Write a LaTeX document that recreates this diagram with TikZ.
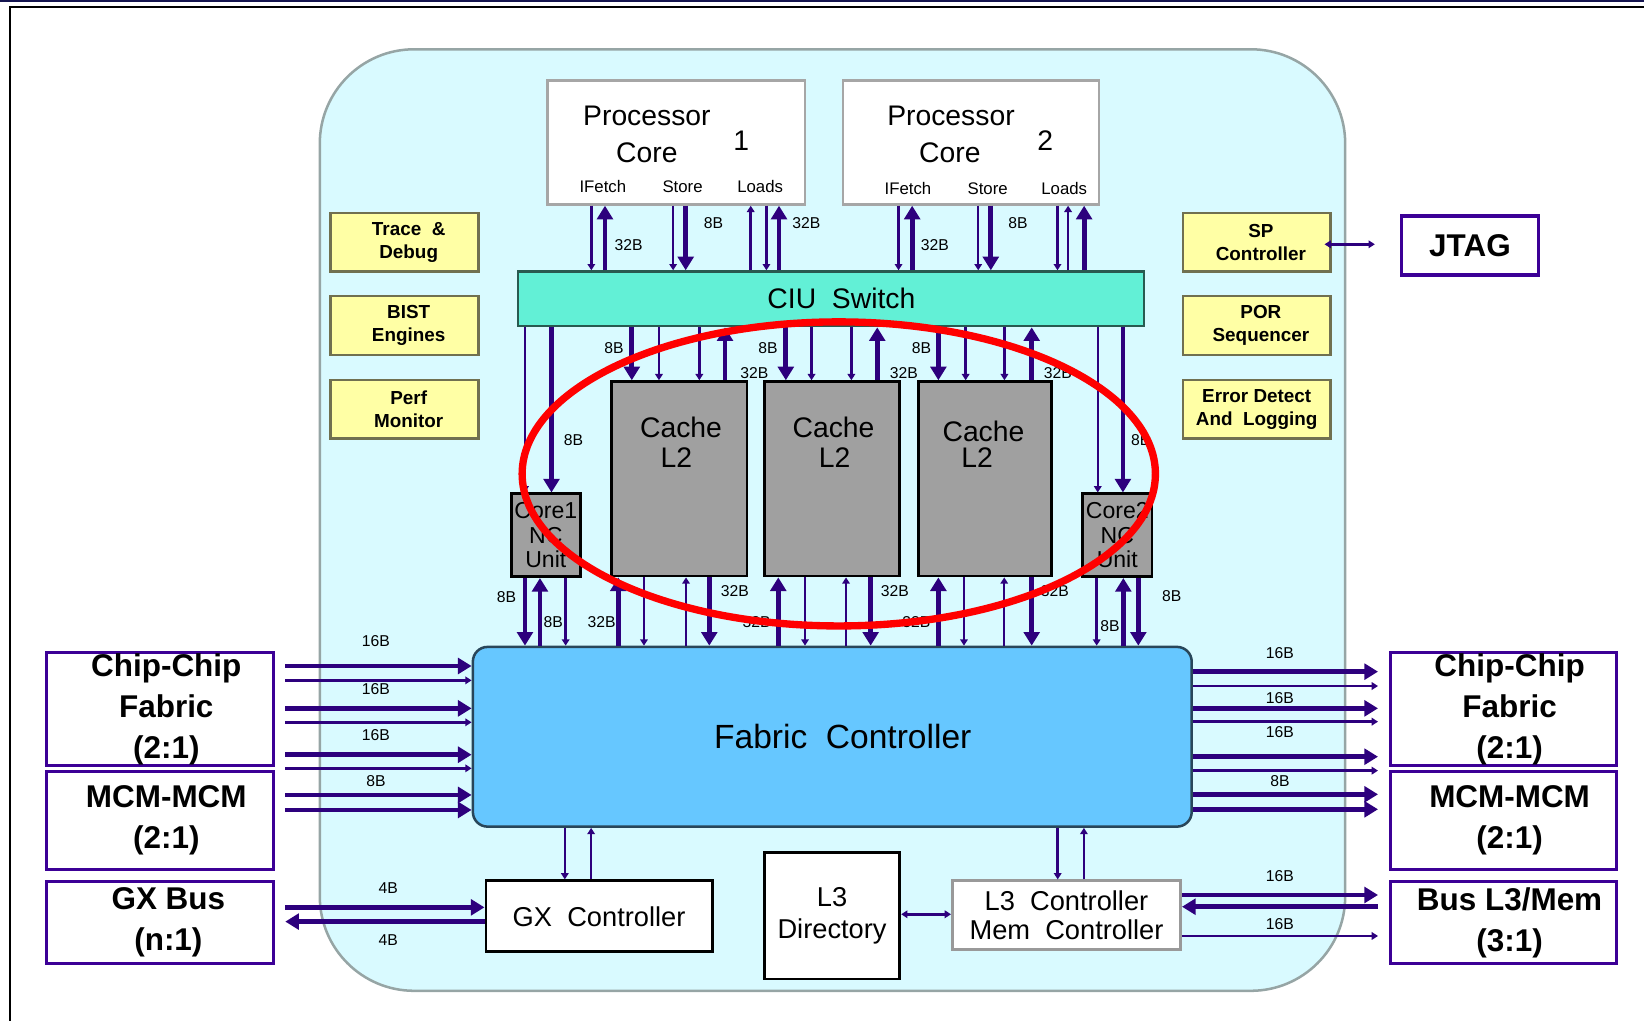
\documentclass[tikz,border=0pt]{standalone}
\usepackage{fontspec}
\setmainfont{Liberation Sans}
\usetikzlibrary{arrows.meta}

\definecolor{chipbg}{RGB}{217,250,255}
\definecolor{chipln}{RGB}{150,165,165}
\definecolor{ciuc}{RGB}{98,240,214}
\definecolor{ciuln}{RGB}{40,90,80}
\definecolor{fabc}{RGB}{102,199,255}
\definecolor{fabln}{RGB}{40,70,90}
\definecolor{cachec}{RGB}{160,160,160}
\definecolor{yelc}{RGB}{255,255,165}
\definecolor{yelln}{RGB}{112,112,80}
\definecolor{extc}{RGB}{60,0,150}
\definecolor{busc}{RGB}{45,0,125}
\definecolor{navy}{RGB}{20,20,80}

\begin{document}
\begin{tikzpicture}[x=0.5pt, y=-0.5pt,
	box/.style={draw, inner sep=0pt, align=center},
	core/.style={box, fill=white, draw=gray!70, line width=1.2pt, minimum width=123pt, minimum height=59pt},
	cache/.style={box, fill=cachec, line width=1.3pt, minimum width=64.5pt, minimum height=92.7pt},
	ncunit/.style={box, fill=cachec, line width=1.3pt, minimum width=33pt, minimum height=39.5pt, font=\fontsize{11}{11.75}\selectfont},
	yel/.style={box, fill=yelc, draw=yelln, line width=1.2pt, minimum width=70.5pt, minimum height=28pt, font=\bfseries\fontsize{9}{11}\selectfont},
	ext/.style={box, fill=white, draw=extc, line width=1.5pt, minimum width=108pt, font=\bfseries\fontsize{15}{19.5}\selectfont},
	blk/.style={box, fill=white, line width=1.3pt, font=\fontsize{13}{15}\selectfont},
	thk/.style={busc, line width=2.3pt, -{Triangle[width=7.5pt,length=6.5pt]}},
	thn/.style={busc, line width=1.2pt, -{Triangle[width=3.6pt,length=3pt]}},
	lbl/.style={inner sep=0pt, font=\fontsize{7.5}{8}\selectfont},
	ctxt/.style={inner sep=0pt, font=\fontsize{13.5}{15}\selectfont},
	ptxt/.style={inner sep=0pt, font=\fontsize{8}{9}\selectfont}]
	\useasboundingbox (0,0) rectangle (1568,974);
	% Frame and chip outline:
	\draw[navy, line width=1.2pt] (0,1) -- (1568,1);
	\draw[line width=1.2pt] (1568,6.5) -- (9.5,6.5) -- (9.5,974);
	\node[draw=chipln, fill=chipbg, line width=1.2pt, rounded corners=45pt, minimum width=489pt, minimum height=449pt, inner sep=0pt] (chip) at (794,496) {};

	% Cores and switch:
	\node[core] (core1) at (645,136) {};
	\node[core, minimum width=122pt] (core2) at (926,136) {};
	\node[ctxt] (p1a) at (617,111) {Processor};
	\node[ctxt] (p1b) at (617,146) {Core};
	\node[ctxt] (p1n) at (707,134) {1};
	\node[ptxt] (p1f) at (575,178) {IFetch};
	\node[ptxt] (p1s) at (651,178) {Store};
	\node[ptxt] (p1l) at (725,178) {Loads};
	\node[ctxt] (p2a) at (907,111) {Processor};
	\node[ctxt] (p2b) at (906,146) {Core};
	\node[ctxt] (p2n) at (997,134) {2};
	\node[ptxt] (p2f) at (866,180) {IFetch};
	\node[ptxt] (p2s) at (942,180) {Store};
	\node[ptxt] (p2l) at (1015,180) {Loads};
	\node[box, fill=ciuc, draw=ciuln, line width=1.2pt, minimum width=298.5pt, minimum height=26pt, font=\fontsize{13.5}{15}\selectfont] (ciu) at (792.5,285) {\hspace*{10pt}CIU\ \ Switch};

	% L2 caches and NC units:
	\node[cache] (cache1) at (648,456.7) {};
	\node[cache] (cache2) at (793.5,456.7) {};
	\node[cache, minimum width=63.3pt] (cache3) at (939.5,456.7) {};
	\node[ctxt] (c1a) at (649.5,408) {Cache};
	\node[ctxt] (c1b) at (645,436) {L2};
	\node[ctxt] (c2a) at (795,408) {Cache};
	\node[ctxt] (c2b) at (796,436) {L2};
	\node[ctxt] (c3a) at (938,411) {Cache};
	\node[ctxt] (c3b) at (932,436) {L2};
	\node[ncunit] (nc1) at (520.6,510.5) {Core1\\NC\\Unit};
	\node[ncunit] (nc2) at (1065.6,510.5) {Core2\\NC\\Unit};

	% Fabric controller:
	\node[box, fill=fabc, draw=fabln, line width=1.2pt, rounded corners=7pt, minimum width=342.8pt, minimum height=85.7pt, font=\fontsize{16}{18}\selectfont] (fab) at (793.8,702.7) {\hspace*{10pt}Fabric\ \ Controller};

	% Side units:
	\node[yel] (trace) at (385.8,231) {\hspace*{4pt}Trace\ \ \&\\\hspace*{4pt}Debug};
	\node[yel] (bist) at (385.8,310.5) {\hspace*{4pt}BIST\\\hspace*{4pt}Engines};
	\node[yel] (perf) at (385.8,390.2) {\hspace*{4pt}Perf\\\hspace*{4pt}Monitor};
	\node[yel] (sp) at (1198.6,231) {\hspace*{4pt}SP\\\hspace*{4pt}Controller};
	\node[yel] (por) at (1198.6,310.5) {\hspace*{4pt}POR\\\hspace*{4pt}Sequencer};
	\node[yel] (err) at (1198.6,390.2) {Error Detect\\And\ \ Logging};
	\node[ext, minimum width=65.2pt, minimum height=28.15pt] (jtag) at (1402,234.2) {JTAG};

	% Off-chip interfaces:
	\node[ext, minimum height=54.15pt] (ccl) at (152.6,676.2) {\hspace*{6pt}Chip-Chip\\\hspace*{6pt}Fabric\\\hspace*{6pt}(2:1)};
	\node[ext, minimum height=46.5pt] (mml) at (152.6,782.5) {\hspace*{6pt}MCM-MCM\\\hspace*{6pt}(2:1)};
	\node[ext, minimum height=38.9pt] (gxl) at (152.6,879.9) {\hspace*{8pt}GX Bus\\\hspace*{8pt}(n:1)};
	\node[ext, minimum height=54.15pt] (ccr) at (1433.8,676.2) {\hspace*{6pt}Chip-Chip\\\hspace*{6pt}Fabric\\\hspace*{6pt}(2:1)};
	\node[ext, minimum height=46.5pt] (mmr) at (1433.8,782.5) {\hspace*{6pt}MCM-MCM\\\hspace*{6pt}(2:1)};
	\node[ext, minimum height=38.9pt] (busr) at (1433.8,879.9) {\hspace*{6pt}Bus L3/Mem\\\hspace*{6pt}(3:1)};

	% Bottom units:
	\node[blk, minimum width=108pt, minimum height=33.85pt] (gxc) at (571.4,873.9) {GX\ \ Controller};
	\node[blk, minimum width=64.6pt, minimum height=60.2pt] (l3d) at (793.6,873.5) {L3\\Directory};
	\node[blk, draw=gray!80, minimum width=108.85pt, minimum height=32.75pt, font=\fontsize{13}{14}\selectfont] (l3c) at (1017.2,872.8) {L3\ \ Controller\\Mem\ \ Controller};

	% Cores <-> CIU:
	\foreach \n/\x/\s in {core1/564/thn, core1/642/thn, core1/654/thk, core1/731/thn, core2/857/thn, core2/933/thn, core2/945/thk, core2/1008.6/thn}
		\draw[\s] (\n.south -| \x,0) -- (ciu.north -| \x,0);
	\foreach \n/\x/\s in {core1/577/thk, core1/716/thn, core1/743/thk, core2/870/thk, core2/1018.7/thn, core2/1034/thk}
		\draw[\s] (ciu.north -| \x,0) -- (\n.south -| \x,0);

	% CIU <-> L2 and NC:
	\foreach \n/\x/\s in {nc1/500.7/thn, nc1/526/thk, cache1/602.6/thk, cache1/628.5/thn, cache1/667/thn, cache2/749.5/thk, cache2/774/thn, cache2/812/thn, cache3/895/thk, cache3/921/thn, cache3/958/thn, nc2/1047/thn, nc2/1071/thk}
		\draw[\s] (ciu.south -| \x,0) -- (\n.north -| \x,0);
	\foreach \n/\x in {cache1/691.5, cache2/836.7, cache3/984}
		\draw[thk] (\n.north -| \x,0) -- (ciu.south -| \x,0);

	% L2 and NC <-> fabric:
	\foreach \n/\x/\s in {nc1/500.7/thk, nc1/539.5/thn, cache1/614.2/thn, cache1/676.5/thk, cache2/767.8/thn, cache2/830.4/thk, cache3/919.4/thn, cache3/984/thk, nc2/1046/thn, nc2/1085.7/thk}
		\draw[\s] (\n.south -| \x,0) -- (fab.north -| \x,0);
	\foreach \n/\x/\s in {nc1/515/thk, cache1/589.7/thk, cache1/654.3/thn, cache2/742.3/thk, cache2/806.9/thn, cache3/895/thk, cache3/957.8/thn, nc2/1071.4/thk}
		\draw[\s] (fab.north -| \x,0) -- (\n.south -| \x,0);

	% Off-chip buses:
	\coordinate (lbus) at ([xshift=5pt]ccl.east);
	\coordinate (rbus) at ([xshift=-5pt]ccr.west);
	\foreach \y/\s in {635.2/thk, 648.9/thn, 675.6/thk, 688.9/thn, 719.8/thk, 732.8/thn, 758.2/thk, 772.5/thk}
		\draw[\s] (lbus |- 0,\y) -- (fab.west |- 0,\y);
	\foreach \y/\s in {640.6/thk, 654.3/thn, 675.6/thk, 688.3/thn, 721.7/thk, 735/thn, 757.6/thk, 771.9/thk}
		\draw[\s] (fab.east |- 0,\y) -- (rbus |- 0,\y);
	\draw[thk] (lbus |- 0,865.4) -- (gxc.west |- 0,865.4);
	\draw[thk] (gxc.west |- 0,879) -- (lbus |- 0,879);
	\draw[thk] (l3c.east |- 0,853.6) -- (rbus |- 0,853.6);
	\draw[thk] (rbus |- 0,864.8) -- (l3c.east |- 0,864.8);
	\draw[thn] (l3c.east |- 0,892.7) -- (rbus |- 0,892.7);

	% Fabric <-> bottom units:
	\draw[thn] (fab.south -| 538.7,0) -- (gxc.north -| 538.7,0);
	\draw[thn] (gxc.north -| 563.8,0) -- (fab.south -| 563.8,0);
	\draw[thn] (fab.south -| 1008.8,0) -- (l3c.north -| 1008.8,0);
	\draw[thn] (l3c.north -| 1033.8,0) -- (fab.south -| 1033.8,0);
	\draw[thn, {Triangle[width=3.6pt,length=3pt]}-{Triangle[width=3.6pt,length=3pt]}] (l3d.east |- 0,872) -- (l3c.west |- 0,872);
	\draw[thn, {Triangle[width=3.6pt,length=3pt]}-{Triangle[width=3.6pt,length=3pt]}] ([xshift=-3.5pt]sp.east |- 0,233) -- ([xshift=-12pt]jtag.west |- 0,233);

	% Bus widths:
	\foreach \x/\y/\t [count=\i] in {599.5/233.7/32B, 680.5/212.8/8B, 769/212.8/32B, 891.7/233.7/32B, 971/212.8/8B,
		585.6/332/8B, 547/419.6/8B, 719.6/356/32B, 732.5/332/8B, 862/356/32B, 879/332/8B, 1009/356/32B, 1088/419.6/8B,
		483/569.4/8B, 527.6/593/8B, 573.8/593/32B, 701/563.4/32B, 721.7/593/32B, 853.6/563.4/32B, 874/593/32B, 1006/563.4/32B, 1058.6/597/8B, 1117.5/569/8B,
		358.6/611/16B, 358.6/657.4/16B, 358.6/701/16B, 358.6/744.6/8B, 370.4/847.2/4B, 370.4/896.5/4B,
		1220.8/623/16B, 1220.8/666/16B, 1220.8/697.8/16B, 1220.8/744.9/8B, 1220.8/835.5/16B, 1220.8/881.3/16B}
		\node[lbl] (w\i) at (\x,\y) {\t};

	% Highlight:
	\draw[red, line width=3.5pt] (800,452) ellipse [x radius=151pt, y radius=72.5pt];
\end{tikzpicture}
\end{document}
